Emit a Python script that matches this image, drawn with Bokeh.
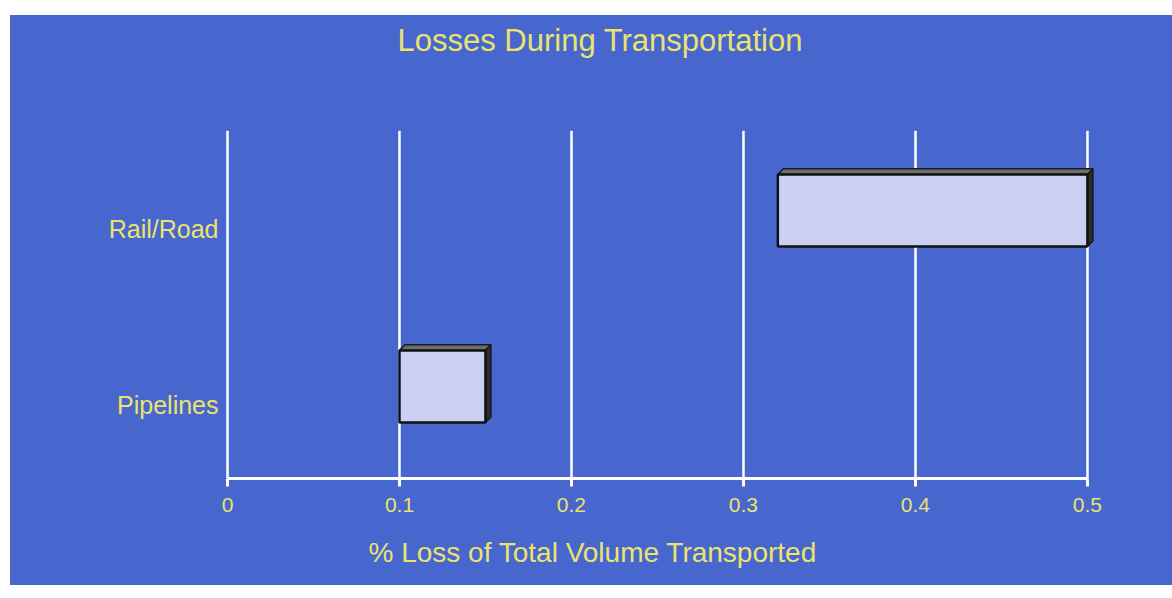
import numpy as np
from bokeh.plotting import figure
from bokeh.models import ColumnDataSource, FixedTicker, LinearAxis, Title
from bokeh.embed import file_html
from bokeh.resources import INLINE

# Loss ranges (% of total volume transported) per transport mode
modes = ["Pipelines", "Rail/Road"]
loss_low = [0.10, 0.32]
loss_high = [0.15, 0.50]
x_ticks = [0, 0.1, 0.2, 0.3, 0.4, 0.5]

BLUE = "#4767cf"
YELLOW = "#ebe36c"
FONT = "Liberation Sans"

pos = np.arange(1, len(modes) + 1, dtype=float)
bar_y = pos + 0.108        # bars sit a little above their labels
bar_h = 0.41
dx, dy = 0.0032, 0.032     # depth offset of the 3D face

bottoms = bar_y - bar_h / 2
tops = bar_y + bar_h / 2
src = ColumnDataSource(dict(left=loss_low, right=loss_high, bottom=bottoms, top=tops))

# top and right depth faces built from the same ranges
top_xs, top_ys, side_xs, side_ys = [], [], [], []
for lo, hi, b, t in zip(loss_low, loss_high, bottoms, tops):
    top_xs.append([lo, lo + dx, hi + dx, hi])
    top_ys.append([t, t + dy, t + dy, t])
    side_xs.append([hi, hi + dx, hi + dx, hi])
    side_ys.append([t, t + dy, b + dy, b])

p = figure(width=1162, height=570, x_range=(-0.0029, 0.5047), y_range=(0.585, 2.5625),
           output_backend="svg", toolbar_location=None,
           min_border_left=212, min_border_right=77,
           min_border_top=115, min_border_bottom=107)
p.margin = (15, 0, 13, 10)
p.styles = {"background-color": BLUE}
p.background_fill_color = BLUE
p.border_fill_color = BLUE
p.outline_line_color = None

# x axis
xa = p.xaxis[0]
xa.ticker = FixedTicker(ticks=x_ticks)
xa.bounds = (0, 0.5)
xa.axis_line_color = "white"
xa.axis_line_width = 3
xa.major_tick_line_color = "white"
xa.major_tick_line_width = 3
xa.major_tick_in = 0
xa.major_tick_out = 8
xa.minor_tick_line_color = None
xa.major_label_text_color = YELLOW
xa.major_label_text_font = FONT
xa.major_label_text_font_size = "21px"
xa.major_label_standoff = 11

# y axis: category names only
ya = p.yaxis[0]
ya.ticker = FixedTicker(ticks=list(pos))
ya.major_label_overrides = {float(v): m for v, m in zip(pos, modes)}
ya.axis_line_color = None
ya.major_tick_line_color = None
ya.major_tick_out = 0
ya.major_tick_in = 0
ya.minor_tick_line_color = None
ya.major_label_text_color = YELLOW
ya.major_label_text_font = FONT
ya.major_label_text_font_size = "25px"
ya.major_label_standoff = 4

p.xgrid.ticker = FixedTicker(ticks=x_ticks)
p.xgrid.grid_line_color = "white"
p.xgrid.grid_line_width = 2.5
p.ygrid.grid_line_color = None


def spacer_axis(height):
    # a blank axis (ticks in the background colour, empty labels) that reserves room
    return LinearAxis(ticker=FixedTicker(ticks=x_ticks), bounds=(0, 0.5),
                      axis_line_color=None, major_tick_line_color=BLUE,
                      minor_tick_line_color=None, major_tick_in=0,
                      major_tick_out=height, minor_tick_in=0, minor_tick_out=0,
                      major_label_overrides={t: "" for t in x_ticks},
                      major_label_standoff=0, major_label_text_font_size="1px")


# title, lifted clear of the plot area
p.add_layout(spacer_axis(68), "above")
p.add_layout(Title(text="Losses During Transportation", align="left", offset=175,
                   standoff=10, text_color=YELLOW, text_font=FONT,
                   text_font_size="31px", text_font_style="normal"), "above")

# x axis caption
p.add_layout(spacer_axis(17), "below")
p.add_layout(Title(text="% Loss of Total Volume Transported", align="left", offset=146,
                   vertical_align="top", standoff=10, text_color=YELLOW, text_font=FONT,
                   text_font_size="28px", text_font_style="normal"), "below")

p.patches(top_xs, top_ys, fill_color="#6e6e6e", line_color="#1a1a1a", line_width=1.5)
p.patches(side_xs, side_ys, fill_color="#2e2e2e", line_color="#1a1a1a", line_width=1.5)
p.quad(left="left", right="right", bottom="bottom", top="top", source=src,
       fill_color="#c9d0f2", line_color="#111111", line_width=2.5)

open("out.html", "w").write(file_html(p, INLINE))
